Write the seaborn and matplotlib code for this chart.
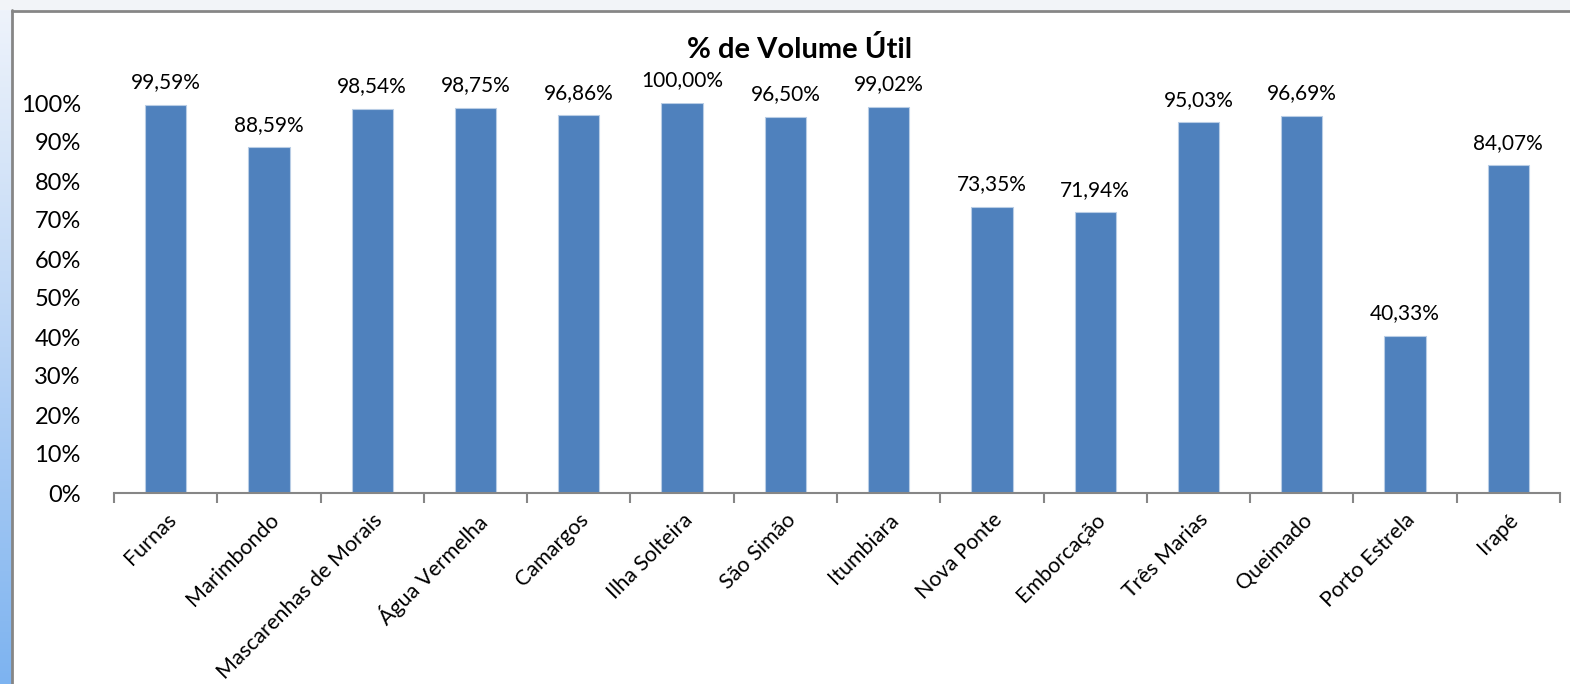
import matplotlib
matplotlib.use("Agg")
import matplotlib.pyplot as plt
import seaborn as sns
import numpy as np
import pandas as pd
from matplotlib.patches import Rectangle
from matplotlib.ticker import FixedLocator, FuncFormatter
from matplotlib.colors import LinearSegmentedColormap

categories = ["Furnas", "Marimbondo", "Mascarenhas de Morais", "Água Vermelha",
              "Camargos", "Ilha Solteira", "São Simão", "Itumbiara", "Nova Ponte",
              "Emborcação", "Três Marias", "Queimado", "Porto Estrela", "Irapé"]
values = [99.59, 88.59, 98.54, 98.75, 96.86, 100.00, 96.50, 99.02, 73.35,
          71.94, 95.03, 96.69, 40.33, 84.07]
y_ticks = list(range(0, 101, 10))
title = "% de Volume Útil"

sns.set_theme(style="white")
plt.rcParams['font.family'] = ['Lato', 'DejaVu Sans']

fig = plt.figure(figsize=(15.7, 6.84), dpi=100)
fig.patch.set_facecolor("white")

W, H = 1570, 684
# top strip
fig.patches.append(Rectangle((0, 1 - 10 / H), 1, 10 / H, transform=fig.transFigure,
                             facecolor="#F2F4F8", edgecolor="none", zorder=0))
# left gradient strip
grad = np.linspace(0, 1, 256).reshape(-1, 1)
cm = LinearSegmentedColormap.from_list("g", ["#7DB3F0", "#B9D4F5", "#EEF3FB"])
gax = fig.add_axes([0, 0, 12 / W, 1 - 10 / H])
gax.imshow(grad, aspect="auto", cmap=cm, origin="lower")
gax.axis("off")
# frame border lines
fig.add_artist(plt.Line2D([12 / W, 12 / W], [0, 1 - 10 / H], transform=fig.transFigure,
                          color="#868686", lw=2))
fig.add_artist(plt.Line2D([12 / W, 1], [1 - 11 / H, 1 - 11 / H], transform=fig.transFigure,
                          color="#868686", lw=2))

ax = fig.add_axes([114 / W, (H - 493) / H, (1560 - 114) / W, (493 - 103) / H])
df = pd.DataFrame({"cat": categories, "val": values})
sns.barplot(data=df, x="cat", y="val", color="#4F81BD", saturation=1, width=0.4,
            ax=ax, edgecolor="#B9CDE5", linewidth=0.8)

ax.set_xlim(-0.5, len(categories) - 0.5)
ax.set_ylim(0, 100)
ax.set_xlabel("")
ax.set_ylabel("")
ax.set_facecolor("white")
for s in ["top", "right", "left"]:
    ax.spines[s].set_visible(False)
ax.spines["bottom"].set_color("#868686")
ax.spines["bottom"].set_linewidth(1.5)

ax.set_yticks(y_ticks)
ax.yaxis.set_major_formatter(FuncFormatter(lambda v, p: f"{int(v)}%"))
ax.tick_params(axis="y", length=0, labelsize=17, pad=24, labelcolor="black")

ax.xaxis.set_minor_locator(FixedLocator(np.arange(-0.5, len(categories), 1.0)))
ax.tick_params(axis="x", which="minor", bottom=True, length=7, width=1.5, color="#868686")
ax.tick_params(axis="x", which="major", bottom=False, length=0, pad=12)
ax.set_xticks(range(len(categories)))
ax.set_xticklabels(categories, rotation=45, ha="right", rotation_mode="anchor",
                   fontsize=15.5, color="black")

labels = [f"{v:.2f}%".replace(".", ",") for v in values]
ax.bar_label(ax.containers[0], labels=labels, padding=9, fontsize=15, color="black")

fig.text(800 / W, 1 - 50 / H, title, ha="center", va="center", fontsize=21,
         fontweight="bold", color="black")

fig.savefig("out.png", dpi=100)
